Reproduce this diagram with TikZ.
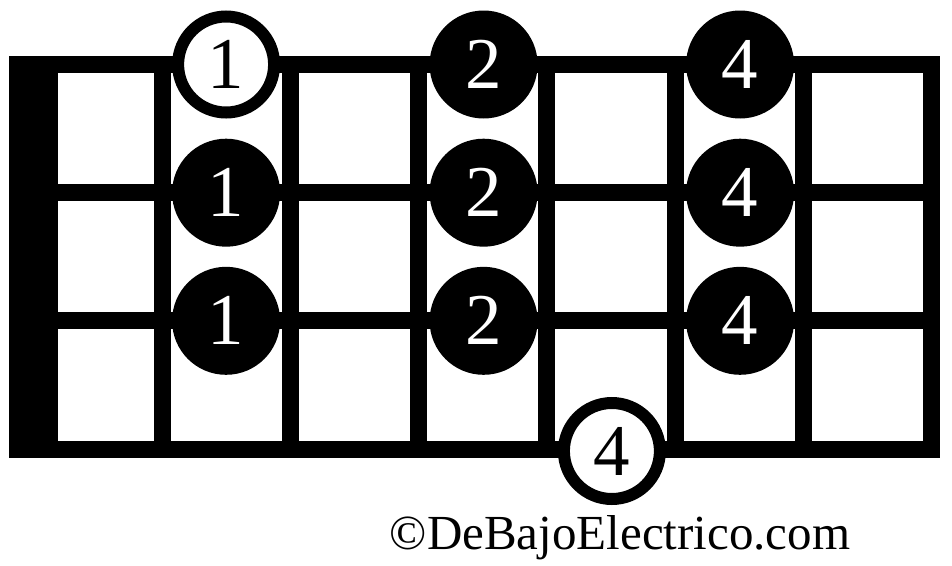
\documentclass[tikz,border=0pt]{standalone}
\usepackage{fontspec}
\setmainfont{Liberation Serif}
\begin{document}
\begin{tikzpicture}[x=1pt,y=-1pt,
  gridline/.style={line width=17pt,line cap=butt},
  fulldot/.style={circle,fill=black,text=white,minimum size=108pt,inner sep=0pt,font=\fontsize{73}{73}\selectfont},
  opendot/.style={circle,draw=black,line width=12pt,fill=white,text=black,minimum size=96pt,inner sep=0pt,font=\fontsize{73}{73}\selectfont}]
\useasboundingbox (0,0) rectangle (952,565);
\fill[white] (0,0) rectangle (952,565);
% nut
\fill[black] (9,56) rectangle (58,457.5);
% strings
\foreach \j in {0,1,2,3}{
  \draw[gridline] (9,{64.5+128.17*\j}) -- (940,{64.5+128.17*\j});
}
% frets
\foreach \k in {0,...,6}{
  \draw[gridline] ({162+128.25*\k},56) -- ({162+128.25*\k},457.5);
}
% dots
\node[opendot] (d11) at (226.1,64.5) {1};
\node[fulldot] (d12) at (483.6,64.5) {2};
\node[fulldot] (d14) at (740.1,64.5) {4};
\node[fulldot] (d21) at (226.1,192.7) {1};
\node[fulldot] (d22) at (483.6,192.7) {2};
\node[fulldot] (d24) at (740.1,192.7) {4};
\node[fulldot] (d31) at (226.1,320.8) {1};
\node[fulldot] (d32) at (483.6,320.8) {2};
\node[fulldot] (d34) at (740.1,320.8) {4};
\node[opendot] (d43) at (611.9,451) {4};
% credit
\node[anchor=base,inner sep=0pt,font=\fontsize{49}{52}\selectfont] (credit) at (620,549) {©DeBajoElectrico.com};
\end{tikzpicture}
\end{document}
